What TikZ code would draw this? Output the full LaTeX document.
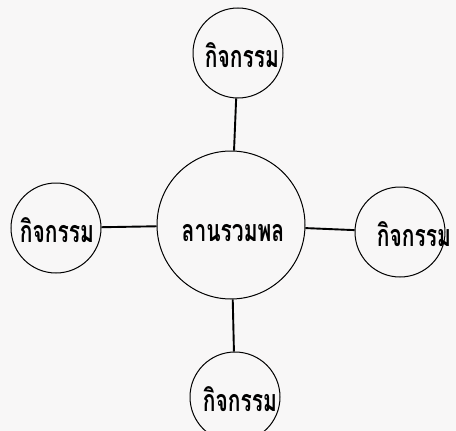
\documentclass[tikz,border=0pt]{standalone}
\usepackage{fontspec}
\newfontfamily\thaifont[Script=Thai]{Loma}
\usepackage{tikz}
\usetikzlibrary{positioning}
\newcommand{\tallword}[1]{\scalebox{1}[1.45]{#1}}

\begin{document}
\begin{tikzpicture}[x=1pt, y=-1pt, font=\thaifont\bfseries, every node/.style={inner sep=0pt}]
        \tikzset{
            hub/.style={draw, circle, line width=1pt, minimum size=148pt},
            act/.style={draw, circle, line width=1pt, minimum size=90pt},
            lbl/.style={font=\thaifont\bfseries\fontsize{21}{21}\selectfont},
            link/.style={line width=1.9pt}
        }

        % Page and paper tone
        \fill[red!2!black!3] (0,0) rectangle (456,431);
        \useasboundingbox (0,0) rectangle (456,431);

        % Central meeting place
        \node[hub] (hub) at (231,225) {};
        \node[lbl] (hubtxt) at (233,233) {\tallword{ลานรวมพล}};

        % Activities around it
        \node[act] (top) at (238,53) {};
        \node[act] (left) at (56,228) {};
        \node[act] (right) at (400,232) {};
        \node[act] (bottom) at (235,397) {};

        \node[lbl] (toptxt) at (242,55) {\tallword{กิจกรรม}};
        \node[lbl] (lefttxt) at (57,230) {\tallword{กิจกรรม}};
        \node[lbl] (righttxt) at (414,234) {\tallword{กิจกรรม}};
        \node[lbl] (bottomtxt) at (240,399) {\tallword{กิจกรรม}};

        % Spokes
        \draw[link] (hub) -- (top);
        \draw[link] (hub) -- (left);
        \draw[link] (hub) -- (right);
        \draw[link] (hub) -- (bottom);
    \end{tikzpicture}
\end{document}
